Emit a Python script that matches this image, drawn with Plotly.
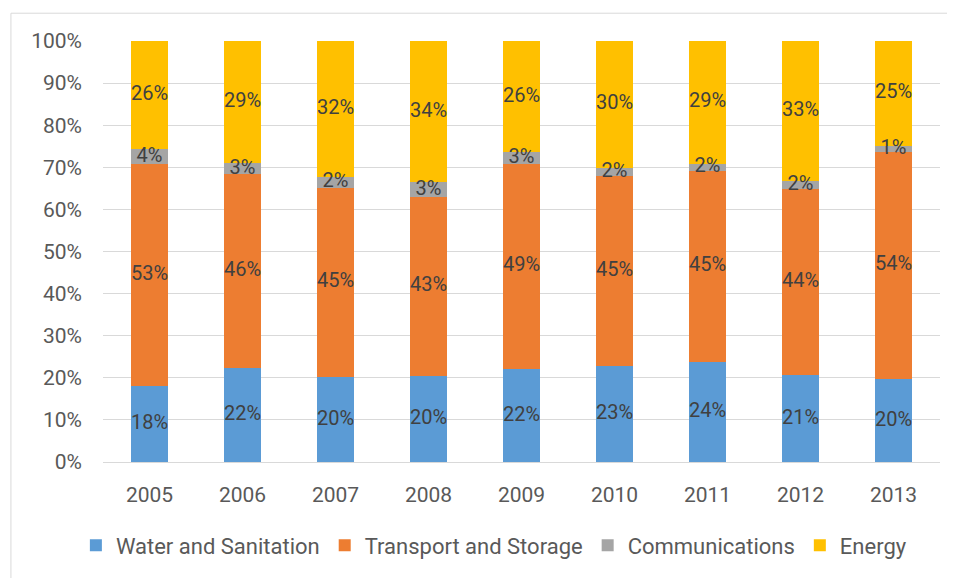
import plotly.graph_objects as go

years = ["2005", "2006", "2007", "2008", "2009", "2010", "2011", "2012", "2013"]

# share of each sector per year (%)
water = [18.1, 22.4, 20.1, 20.4, 22.0, 22.7, 23.8, 20.6, 19.7]
transport = [52.6, 45.9, 45.1, 42.6, 48.9, 45.2, 45.3, 44.3, 54.0]
communications = [3.7, 2.7, 2.4, 3.4, 2.7, 2.0, 1.8, 1.9, 1.4]
energy = [25.6, 29.0, 32.4, 33.6, 26.4, 30.1, 29.1, 33.2, 24.9]

series = [
    ("Water and Sanitation", water, "#5B9BD5"),
    ("Transport and Storage", transport, "#ED7D31"),
    ("Communications", communications, "#A5A5A5"),
    ("Energy", energy, "#FFC000"),
]

fig = go.Figure()
for name, values, color in series:
    fig.add_trace(go.Bar(
        x=years, y=values, name=name,
        marker=dict(color=color, line=dict(width=0)),
    ))

# data labels on top of all bars, centred in each segment
base = [0.0] * len(years)
for name, values, color in series:
    mids = [b + v / 2 for b, v in zip(base, values)]
    fig.add_trace(go.Scatter(
        x=years, y=mids, mode="text",
        text=[f"{v:.0f}%" for v in values],
        textposition="middle center",
        textfont=dict(color="#404040", size=20),
        showlegend=False, hoverinfo="skip",
    ))
    base = [b + v for b, v in zip(base, values)]

fig.update_layout(
    barmode="stack",
    bargap=0.6,
    width=947, height=570,
    margin=dict(l=95, r=15, t=33, b=114),
    paper_bgcolor="white",
    plot_bgcolor="white",
    font=dict(family="Roboto, sans-serif", color="#595959", size=21),
    legend=dict(
        orientation="h",
        x=0.467, xanchor="center",
        y=-0.198, yanchor="middle",
        font=dict(size=22, color="#595959"),
        traceorder="normal",
    ),
    shapes=[
        dict(type="line", xref="paper", yref="paper", x0=-0.11, x1=1.1, y0=1.066, y1=1.066,
             line=dict(color="#D9D9D9", width=1)),
        dict(type="line", xref="paper", yref="paper", x0=-0.11, x1=-0.11, y0=-0.4, y1=1.066,
             line=dict(color="#D9D9D9", width=1)),
    ],
)

fig.update_yaxes(
    range=[0, 100],
    tickvals=[0, 10, 20, 30, 40, 50, 60, 70, 80, 90, 100],
    ticktext=["0%", "10%", "20%", "30%", "40%", "50%", "60%", "70%", "80%", "90%", "100%"],
    showgrid=True, gridcolor="#D9D9D9", gridwidth=1,
    zeroline=True, zerolinecolor="#D9D9D9", zerolinewidth=1,
    showline=False,
    ticklabelstandoff=20,
)
fig.update_xaxes(
    showgrid=False, showline=False,
    ticklabelstandoff=18,
)

fig.write_html("out.html")
